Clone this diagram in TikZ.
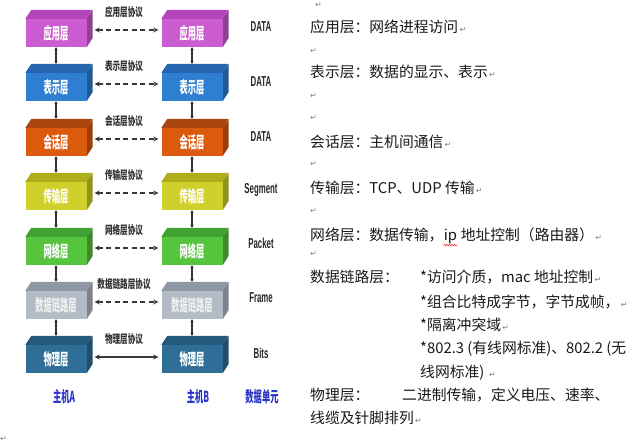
\documentclass[tikz,border=0pt]{standalone}
\usepackage{fontspec}
\setmainfont{Noto Sans CJK SC}
\newfontfamily\unitfont{Liberation Sans}
\newfontfamily\markfont{DejaVu Sans}
\usetikzlibrary{arrows.meta,decorations.pathmorphing}
\definecolor{appfront}{HTML}{CC5CD2}
\definecolor{apptop}{HTML}{B444BA}
\definecolor{presfront}{HTML}{2E7FD2}
\definecolor{prestop}{HTML}{2565B0}
\definecolor{sessfront}{HTML}{DC5A0E}
\definecolor{sesstop}{HTML}{A9450F}
\definecolor{transfront}{HTML}{D0D02C}
\definecolor{transtop}{HTML}{AEAE1C}
\definecolor{netfront}{HTML}{57C43E}
\definecolor{nettop}{HTML}{41A132}
\definecolor{linkfront}{HTML}{B3BBC7}
\definecolor{linktop}{HTML}{8E97A4}
\definecolor{physfront}{HTML}{2F6F97}
\definecolor{phystop}{HTML}{245979}
\definecolor{hostblue}{HTML}{2A35C8}
\newcommand\pmark{{\markfont\color{black!50}\fontsize{8}{8}\selectfont\,↵}}
\newcommand\layertext[1]{\scalebox{0.92}[1.8]{#1}}
\newcommand\prototext[1]{\scalebox{0.95}[1.45]{#1}}
\newcommand\unittext[1]{\scalebox{0.87}[1.6]{#1}}
\begin{document}
\begin{tikzpicture}[x=1pt,y=-1pt,
           layer_style/.style n args={2}{rectangle,fill=#1,minimum width=61pt,minimum height=28pt,inner sep=0pt,
              text=white,font=\bfseries\fontsize{9}{9}\selectfont,
              append after command={\pgfextra{\begin{pgfinterruptpath}
                \fill[#2] (\tikzlastnode.north west) -- ++(6pt,9pt) -- ++(61pt,0pt) -- (\tikzlastnode.north east) -- cycle;
                \fill[#1!70!black] (\tikzlastnode.north east) -- ++(6pt,9pt) -- ++(0pt,-28pt) -- (\tikzlastnode.south east) -- cycle;
              \end{pgfinterruptpath}}}},
           stack_style/.style={draw=black!80,line width=1.1pt,{Stealth[length=3pt,width=3.5pt]}-{Stealth[length=3pt,width=3.5pt]}},
           proto_style/.style={draw=black!78,line width=1.5pt,dash pattern=on 5pt off 3.5pt,
              {Stealth[length=5pt,width=5pt]}-{Stealth[length=5pt,width=5pt]},shorten <=8pt,shorten >=3pt},
           proto_label/.style={above=11pt,inner sep=0pt,font=\bfseries\fontsize{8}{8}\selectfont,text=black!80},
           unit_style/.style={inner sep=0pt,font=\unitfont\bfseries\fontsize{9}{9}\selectfont,text=black!85},
           host_style/.style={inner sep=0pt,font=\bfseries\fontsize{9.5}{9.5}\selectfont,text=hostblue},
           line_style/.style={anchor=base west,inner sep=0pt,font=\fontsize{14.8}{16}\selectfont,text=black!90},
           mark_style/.style={anchor=base west,inner sep=0pt,font=\markfont\fontsize{8}{8}\selectfont,text=black!50},
           spell_style/.style={draw=red,line width=0.5pt,decorate,decoration={snake,amplitude=0.7pt,segment length=2.5pt}}]
            \useasboundingbox (0,0) rectangle (634,445);
            % host A
            \node[layer_style={appfront}{apptop}] (a0) at (56,33) {\layertext{应用层}};
            \node[layer_style={presfront}{prestop}] (a1) at (56,87) {\layertext{表示层}};
            \node[layer_style={sessfront}{sesstop}] (a2) at (56,142) {\layertext{会话层}};
            \node[layer_style={transfront}{transtop}] (a3) at (56,196) {\layertext{传输层}};
            \node[layer_style={netfront}{nettop}] (a4) at (56,251) {\layertext{网络层}};
            \node[layer_style={linkfront}{linktop},text=white!88!gray] (a5) at (56,305) {\layertext{数据链路层}};
            \node[layer_style={physfront}{phystop}] (a6) at (56,359) {\layertext{物理层}};
            % host B
            \node[layer_style={appfront}{apptop}] (b0) at (192,33) {\layertext{应用层}};
            \node[layer_style={presfront}{prestop}] (b1) at (192,87) {\layertext{表示层}};
            \node[layer_style={sessfront}{sesstop}] (b2) at (192,142) {\layertext{会话层}};
            \node[layer_style={transfront}{transtop}] (b3) at (192,196) {\layertext{传输层}};
            \node[layer_style={netfront}{nettop}] (b4) at (192,251) {\layertext{网络层}};
            \node[layer_style={linkfront}{linktop},text=white!88!gray] (b5) at (192,305) {\layertext{数据链路层}};
            \node[layer_style={physfront}{phystop}] (b6) at (192,359) {\layertext{物理层}};
            % stack arrows
            \draw[stack_style] (a0.south) -- ([yshift=9pt]a1.north);
            \draw[stack_style] (a1.south) -- ([yshift=9pt]a2.north);
            \draw[stack_style] (a2.south) -- ([yshift=9pt]a3.north);
            \draw[stack_style] (a3.south) -- ([yshift=9pt]a4.north);
            \draw[stack_style] (a4.south) -- ([yshift=9pt]a5.north);
            \draw[stack_style] (a5.south) -- ([yshift=9pt]a6.north);
            \draw[stack_style] (b0.south) -- ([yshift=9pt]b1.north);
            \draw[stack_style] (b1.south) -- ([yshift=9pt]b2.north);
            \draw[stack_style] (b2.south) -- ([yshift=9pt]b3.north);
            \draw[stack_style] (b3.south) -- ([yshift=9pt]b4.north);
            \draw[stack_style] (b4.south) -- ([yshift=9pt]b5.north);
            \draw[stack_style] (b5.south) -- ([yshift=9pt]b6.north);
            % peer protocols
            \draw[proto_style] ([yshift=3pt]a0.east) -- node[proto_label]{\prototext{应用层协议}} ([yshift=3pt]b0.west);
            \draw[proto_style] ([yshift=3pt]a1.east) -- node[proto_label]{\prototext{表示层协议}} ([yshift=3pt]b1.west);
            \draw[proto_style] ([yshift=3pt]a2.east) -- node[proto_label]{\prototext{会话层协议}} ([yshift=3pt]b2.west);
            \draw[proto_style] ([yshift=3pt]a3.east) -- node[proto_label]{\prototext{传输层协议}} ([yshift=3pt]b3.west);
            \draw[proto_style] ([yshift=3pt]a4.east) -- node[proto_label]{\prototext{网络层协议}} ([yshift=3pt]b4.west);
            \draw[proto_style] ([yshift=3pt]a5.east) -- node[proto_label]{\prototext{数据链路层协议}} ([yshift=3pt]b5.west);
            \draw[proto_style,solid] ([yshift=2pt]a6.east) -- node[proto_label]{\prototext{物理层协议}} ([yshift=2pt]b6.west);
            % data units
            \node[unit_style] (u0) at (261,27) {\unittext{DATA}};
            \node[unit_style] (u1) at (261,82) {\unittext{DATA}};
            \node[unit_style] (u2) at (261,137) {\unittext{DATA}};
            \node[unit_style] (u3) at (261,190) {\unittext{Segment}};
            \node[unit_style] (u4) at (261,243) {\unittext{Packet}};
            \node[unit_style] (u5) at (261,298) {\unittext{Frame}};
            \node[unit_style] (u6) at (261,353) {\unittext{Bits}};
            \node[host_style] (hA) at (64,397) {\unittext{主机A}};
            \node[host_style] (hB) at (198,397) {\unittext{主机B}};
            \node[host_style] (hU) at (262,397) {\unittext{数据单元}};
            \node[mark_style] (m9) at (0,441) {↵};
            % notes
            \node[mark_style] (m0) at (315,7) {↵};
            \node[line_style] (r1) at (310,32.5) {应用层：网络进程访问\pmark};
            \node[mark_style] (m1) at (310,53) {↵};
            \node[line_style] (r2) at (310,77.5) {表示层：数据的显示、表示\pmark};
            \node[mark_style] (m2) at (310,98) {↵};
            \node[mark_style] (m3) at (310,120) {↵};
            \node[line_style] (r3) at (310,147.5) {会话层：主机间通信\pmark};
            \node[mark_style] (m4) at (310,166) {↵};
            \node[line_style] (r4) at (310,193.5) {传输层：TCP、UDP 传输\pmark};
            \node[mark_style] (m5) at (310,213) {↵};
            \node[line_style] (r5) at (310,240.5) {网络层：数据传输，};
            \node[line_style] (rip) at (r5.base east) {ip};
            \node[line_style] (r5b) at (rip.base east) {\ 地址控制（路由器）\pmark};
            \draw[spell_style] ([yshift=-1pt]rip.south west) -- ([yshift=-1pt]rip.south east);
            \node[mark_style] (m6) at (310,256) {↵};
            \node[line_style] (r6) at (310,282.5) {数据链路层：};
            \node[line_style] (r6a) at (420,282.5) {*访问介质，mac 地址控制\pmark};
            \node[line_style] (r6b) at (420,307.5) {*组合比特成字节，字节成帧，\pmark};
            \node[line_style] (r6c) at (420,330.5) {*隔离冲突域\pmark};
            \node[line_style] (r6d) at (420,353.5) {*802.3 (有线网标准)、802.2 (无};
            \node[line_style] (r6e) at (420,377.5) {线网标准) \pmark};
            \node[line_style] (r7) at (310,400.5) {物理层：};
            \node[line_style] (r7a) at (402,400.5) {二进制传输，定义电压、速率、};
            \node[line_style] (r7b) at (310,423.5) {线缆及针脚排列\pmark};
        \end{tikzpicture}
\end{document}
